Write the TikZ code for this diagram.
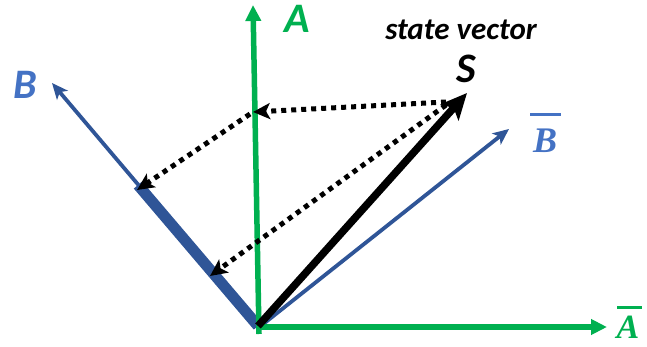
\documentclass[tikz,border=0pt]{standalone}
\usepackage{fontspec}
\setmainfont{Carlito}
\newfontfamily\mathlike{Liberation Serif}
\usetikzlibrary{arrows.meta}
\definecolor{grn}{HTML}{00B050}
\definecolor{bline}{HTML}{2F5597}
\definecolor{blab}{HTML}{4472C4}
\tikzset{
  greenaxis/.style={draw=grn, line width=5.5pt, -{Triangle[length=16pt,width=15pt]}},
  blueaxis/.style={draw=bline, line width=3.8pt, -{Stealth[length=16pt,width=14pt,inset=4pt]}},
  statevec/.style={draw=black, line width=7.5pt, -{Stealth[length=26pt,width=24pt,inset=6pt]}},
  proj/.style={draw=black, line width=5pt, dash pattern=on 5pt off 5pt, -{Stealth[length=17pt,width=16pt,inset=4pt]}},
  biglab/.style={font=\fontsize{42}{42}\selectfont\bfseries\itshape, inner sep=0pt, anchor=base},
  barlab/.style={font=\fontsize{36}{36}\selectfont\mathlike\bfseries\itshape, inner sep=0pt, anchor=base},
}
\begin{document}
\begin{tikzpicture}[x=1pt,y=-1pt]
\useasboundingbox (0,0) rectangle (647,347);
% coordinates
\coordinate (O) at (258,326);
\coordinate (Obot) at (259,334);
\coordinate (Atip) at (253,5);
\coordinate (Abtip) at (607,327);
\coordinate (Ah) at (258,327);
\coordinate (Btip) at (52,83);
\coordinate (Bbtip) at (509,129);
\coordinate (Bmid) at (138,185);
\coordinate (Stip) at (467,93);
\coordinate (S1) at (446,102);
\coordinate (S2) at (446,105);
\coordinate (PA) at (253,112);
\coordinate (PA2) at (250,114);
\coordinate (PB1) at (137,190);
\coordinate (PB2) at (210,276);
% blue axes
\draw[blueaxis] (O) -- (Btip);
\draw[draw=bline, line width=11pt] (O) -- (Bmid);
\draw[blueaxis] (262,325) -- (Bbtip);
% green axes
\draw[greenaxis] (Obot) -- (Atip);
\draw[greenaxis] (Ah) -- (Abtip);
% state vector
\draw[statevec] (O) -- (Stip);
% projections
\draw[proj] (S1) -- (PA);
\draw[proj] (PA2) -- (PB1);
\draw[proj] (S2) -- (PB2);
% labels
\node[biglab, text=grn] (labA) at (297,33) {A};
\node[biglab, text=blab] (labB) at (25,99) {B};
\node[biglab, text=black] (labS) at (466,83) {S};
\node[font=\fontsize{31}{31}\selectfont\bfseries\itshape, inner sep=0pt, anchor=base] (labsv) at (461,40) {state vector};
\node[barlab, text=blab] (labBb) at (545,153) {B};
\draw[draw=blab, line width=3pt] (530,115) -- (561,115);
\node[barlab, text=grn, font=\fontsize{34}{34}\selectfont\mathlike\bfseries\itshape] (labAb) at (628,338) {A};
\draw[draw=grn, line width=3pt] (617,307) -- (642,307);
\end{tikzpicture}
\end{document}
